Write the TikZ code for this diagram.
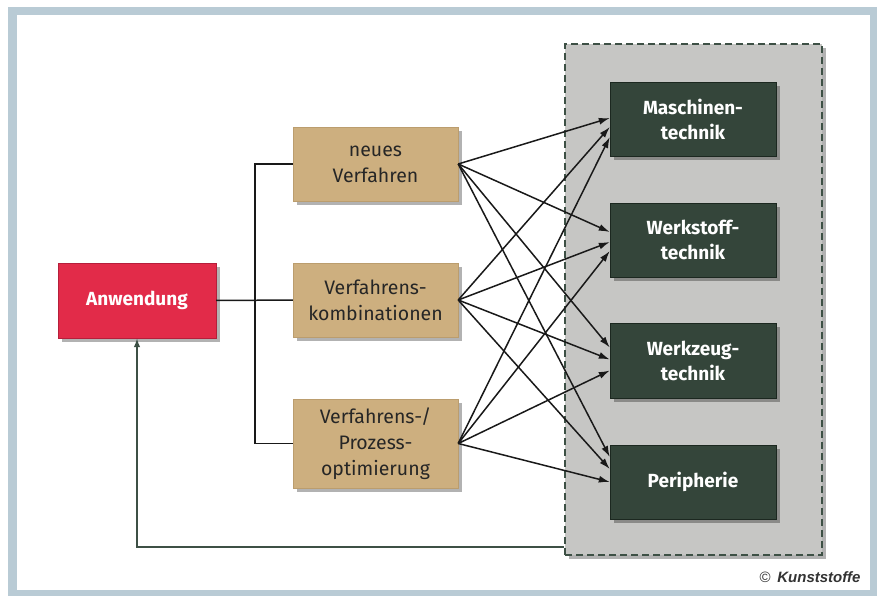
\documentclass[tikz,border=0pt]{standalone}
\usepackage{fontspec}
\setmainfont{Fira Sans}
\newfontfamily\kfont{Liberation Sans}
\usepackage{tikz}
\usetikzlibrary{arrows.meta,shadows}

\definecolor{rahmen}{HTML}{B9CBD5}
\definecolor{rot}{HTML}{E22B49}
\definecolor{rotrand}{HTML}{B51F3B}
\definecolor{sand}{HTML}{CDAF7F}
\definecolor{sandrand}{HTML}{BB9D6E}
\definecolor{dunkel}{HTML}{34453A}
\definecolor{dunkelrand}{HTML}{1C2820}
\definecolor{grau}{HTML}{C6C6C4}
\definecolor{strich}{HTML}{3D5045}

\begin{document}
\begin{tikzpicture}[x=1pt,y=-1pt,
    schatten/.style={drop shadow={shadow xshift=4pt,shadow yshift=-4pt,fill=black,opacity=.3}},
    rotbox/.style={draw=rotrand,fill=rot,text=white,schatten,minimum width=158pt,minimum height=75pt,
        font=\fontsize{19}{25}\selectfont\bfseries},
    sandbox/.style={draw=sandrand,fill=sand,text=black!85,schatten,minimum width=165pt,minimum height=74pt,
        align=center,font=\fontsize{19.5}{26}\selectfont},
    dunkelbox/.style={draw=dunkelrand,fill=dunkel,text=white,schatten,minimum width=166pt,minimum height=74pt,
        align=center,font=\fontsize{19}{25}\selectfont\bfseries},
    pfeil/.style={line width=1.5pt,black!90,-{Latex[length=11pt,width=7pt]}}]
        \useasboundingbox (0,0) rectangle (877,596);
        \fill[rahmen] (8,7) rectangle (877,596);
        \fill[white] (17,15) rectangle (870,590);

        \node[draw=strich,dashed,dash pattern=on 7pt off 4pt,line width=1.6pt,fill=grau,schatten,
              minimum width=257pt,minimum height=511pt] (bereich) at (693.5,299.5) {};

        \node[rotbox] (anw) at (137,300.5) {Anwendung};

        \node[sandbox] (neu) at (375.5,164) {neues\\Verfahren};
        \node[sandbox] (komb) at (375.5,300) {Verfahrens-\\kombinationen};
        \node[sandbox,minimum height=89pt] (opt) at (375.5,443.5) {Verfahrens-/\\Prozess-\\optimierung};

        \node[dunkelbox] (masch) at (693,119) {Maschinen-\\technik};
        \node[dunkelbox] (werkst) at (693,240) {Werkstoff-\\technik};
        \node[dunkelbox,minimum height=75pt] (werkz) at (693,360.5) {Werkzeug-\\technik};
        \node[dunkelbox] (peri) at (693,482) {Peripherie};

        \node[text=black!80,font=\fontsize{15}{18}\selectfont] (copy) at (810,577)
            {\kfont ©\, \textbf{\textit{Kunststoffe}}};

        \coordinate (rueck) at (bereich.west |- 0,547);

	\draw[line width=1.5pt,black!90] (anw) -- (komb);
	\draw[line width=1.5pt,black!90] (neu.west) -- ++(-38,0) |- (opt.west);

	\path[pfeil] (neu.east) edge ([yshift=1pt]masch.west);
	\path[pfeil] (komb.east) edge ([yshift=-8pt]masch.west);
	\path[pfeil] (opt.east) edge ([yshift=-18pt]masch.west);
	\path[pfeil] (neu.east) edge ([yshift=8pt]werkst.west);
	\path[pfeil] (komb.east) edge ([yshift=-2pt]werkst.west);
	\path[pfeil] (opt.east) edge ([yshift=-11pt]werkst.west);
	\path[pfeil] (neu.east) edge ([yshift=13pt]werkz.west);
	\path[pfeil] (komb.east) edge ([yshift=1pt]werkz.west);
	\path[pfeil] (opt.east) edge ([yshift=-10pt]werkz.west);
	\path[pfeil] (neu.east) edge ([yshift=25pt]peri.west);
	\path[pfeil] (komb.east) edge ([yshift=13pt]peri.west);
	\path[pfeil] (opt.east) edge ([yshift=0pt]peri.west);

	\draw[line width=1.5pt,strich,-{Latex[length=9pt,width=6.5pt]}] (rueck) -| (anw.south);
\end{tikzpicture}
\end{document}
